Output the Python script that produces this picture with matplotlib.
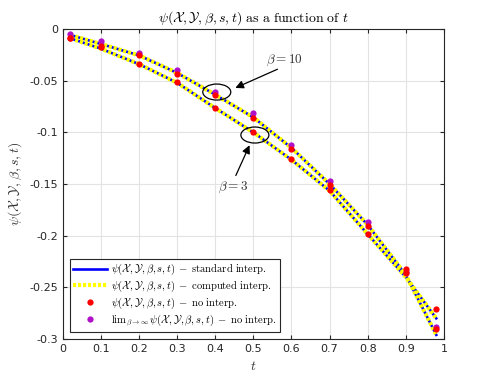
import numpy as np
import matplotlib.pyplot as plt
from matplotlib.patches import Ellipse

plt.rcParams['mathtext.fontset'] = 'cm'

#%% data
t = [0.02, 0.1, 0.2, 0.3, 0.4, 0.5, 0.6, 0.7, 0.8, 0.9, 0.98]
line_b10 = [-0.0058, -0.0145, -0.0255, -0.0425, -0.0635, -0.0855, -0.115, -0.150, -0.1895, -0.238, -0.296]
line_b3 = [-0.009, -0.019, -0.034, -0.052, -0.0765, -0.100, -0.1265, -0.1565, -0.1985, -0.240, -0.280]
red_b10 = [-0.0084, -0.016, -0.0255, -0.0435, -0.064, -0.0858, -0.116, -0.1505, -0.1907, -0.236, -0.2907]
red_b3 = [-0.0084, -0.017, -0.034, -0.0513, -0.076, -0.0997, -0.1255, -0.156, -0.1985, -0.2327, -0.2714]
lim_inf = [-0.0048, -0.012, -0.0235, -0.040, -0.0613, -0.0817, -0.1123, -0.1475, -0.1865, -0.235, -0.288]

xticks = [0, 0.1, 0.2, 0.3, 0.4, 0.5, 0.6, 0.7, 0.8, 0.9, 1]
xticklabels = ['0', '0.1', '0.2', '0.3', '0.4', '0.5', '0.6', '0.7', '0.8', '0.9', '1']
yticks = [0, -0.05, -0.1, -0.15, -0.2, -0.25, -0.3]
yticklabels = ['0', '-0.05', '-0.1', '-0.15', '-0.2', '-0.25', '-0.3']

psi = r'\psi(\mathcal{X},\mathcal{Y},\beta,s,t)'
dash = r'\;-\;'
purple = '#b010c8'

fig = plt.figure(figsize=(4.91, 3.82), dpi=100)
ax = fig.add_axes([0.128, 0.1126, 0.776, 0.8114])

#%% curves
for i, y in enumerate([line_b10, line_b3]):
    ax.plot(t, y, '-', color='blue', lw=1.9, zorder=3,
            label=r'$' + psi + dash + r'\mathrm{standard\ interp.}$' if i == 0 else None)
for i, y in enumerate([line_b10, line_b3]):
    l, = ax.plot(t, y, color='yellow', lw=3.0, zorder=4,
                 label=r'$' + psi + dash + r'\mathrm{computed\ interp.}$' if i == 0 else None)
    l.set_dashes((0.75, 0.45))

ax.plot(t, lim_inf, 'o', color=purple, ms=4.5, mec='none', zorder=5)
ax.plot(t, red_b10, 'o', color='red', ms=4.5, mec='none', zorder=6,
        label=r'$' + psi + dash + r'\mathrm{no\ interp.}$')
ax.plot(t, red_b3, 'o', color='red', ms=4.5, mec='none', zorder=6)
ax.plot([], [], 'o', color=purple, ms=4.5, mec='none',
        label=r'$\mathrm{lim}_{\beta\rightarrow\infty}\,' + psi + dash + r'\mathrm{no\ interp.}$')

#%% annotations
ax.add_patch(Ellipse((0.404, -0.061), 0.0735, 0.0155, fill=False, ec='black', lw=0.9, zorder=7))
ax.add_patch(Ellipse((0.504, -0.1026), 0.0735, 0.0155, fill=False, ec='black', lw=0.9, zorder=7))
ax.annotate('', xy=(0.446, -0.0581), xytext=(0.570, -0.0378),
            arrowprops=dict(arrowstyle='-|>', color='black', lw=0.9, mutation_scale=12))
ax.annotate('', xy=(0.493, -0.110), xytext=(0.451, -0.1442),
            arrowprops=dict(arrowstyle='-|>', color='black', lw=0.9, mutation_scale=12))
ax.text(0.583, -0.030, r'$\beta=10$', ha='center', va='center', fontsize=9.5, color='#333333')
ax.text(0.446, -0.153, r'$\beta=3$', ha='center', va='center', fontsize=9.5, color='#333333')

#%% axes styling
ax.set_xlim(0, 1)
ax.set_ylim(-0.3, 0)
ax.set_xticks(xticks)
ax.set_xticklabels(xticklabels)
ax.set_yticks(yticks)
ax.set_yticklabels(yticklabels)
ax.tick_params(direction='in', length=3, labelsize=8, colors='#262626', top=True, right=True)
ax.grid(True, color='#e3e3e3', lw=0.8)
ax.set_axisbelow(True)
for s in ax.spines.values():
    s.set_color('#262626')
    s.set_linewidth(0.8)

ax.set_title(r'$' + psi + r'\ \mathrm{as\ a\ function\ of}\ t$', fontsize=10, pad=5)
ax.set_xlabel(r'$t$', fontsize=10, color='#333333')
ax.set_ylabel(r'$' + psi + r'$', fontsize=10, color='#333333')

leg = ax.legend(loc='lower left', fontsize=7.6, fancybox=False, framealpha=1,
                edgecolor='#262626', handlelength=3.2, borderpad=0.3,
                labelspacing=0.15, handletextpad=0.4, borderaxespad=0.7)
leg.get_frame().set_linewidth(0.8)

fig.savefig('out.png', dpi=100)
